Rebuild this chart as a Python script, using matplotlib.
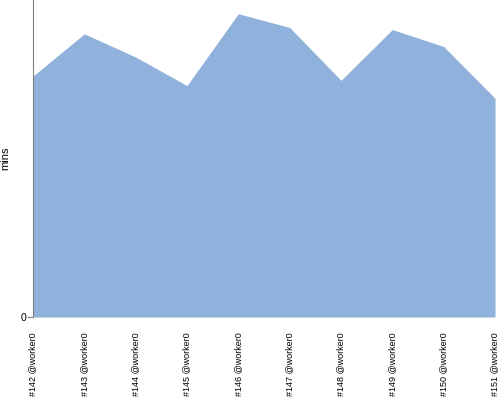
import matplotlib
matplotlib.use("Agg")
import matplotlib.pyplot as plt
import numpy as np

builds = ["#142 @worker0", "#143 @worker0", "#144 @worker0", "#145 @worker0", "#146 @worker0",
          "#147 @worker0", "#148 @worker0", "#149 @worker0", "#150 @worker0", "#151 @worker0"]
mins = [22.8, 26.8, 24.6, 21.9, 28.7, 27.4, 22.4, 27.2, 25.6, 20.7]
y_max = 30

plt.rcParams["font.family"] = ["Liberation Sans", "DejaVu Sans"]

fig = plt.figure(figsize=(5, 4), dpi=100)
ax = fig.add_axes([0.066, 0.2075, 0.924, 0.7925])

x = np.arange(len(builds))
ax.fill_between(x, 0, mins, color="#8FB1DB", linewidth=0)
ax.set_xlim(0, len(builds) - 1)
ax.set_ylim(0, y_max)

ax.set_xticks(x)
ax.set_xticklabels(builds, rotation=90, fontsize=6.5)
ax.tick_params(axis="x", length=0, pad=11)
ax.set_yticks([0])
ax.tick_params(axis="y", length=4, color="#808080", labelsize=7.5, pad=1)
ax.set_ylabel("mins", fontsize=8)
ax.yaxis.set_label_coords(-0.05, 0.5)

for side in ["top", "right", "bottom"]:
    ax.spines[side].set_visible(False)
ax.spines["left"].set_color("#808080")

fig.savefig("out.png", dpi=100)
